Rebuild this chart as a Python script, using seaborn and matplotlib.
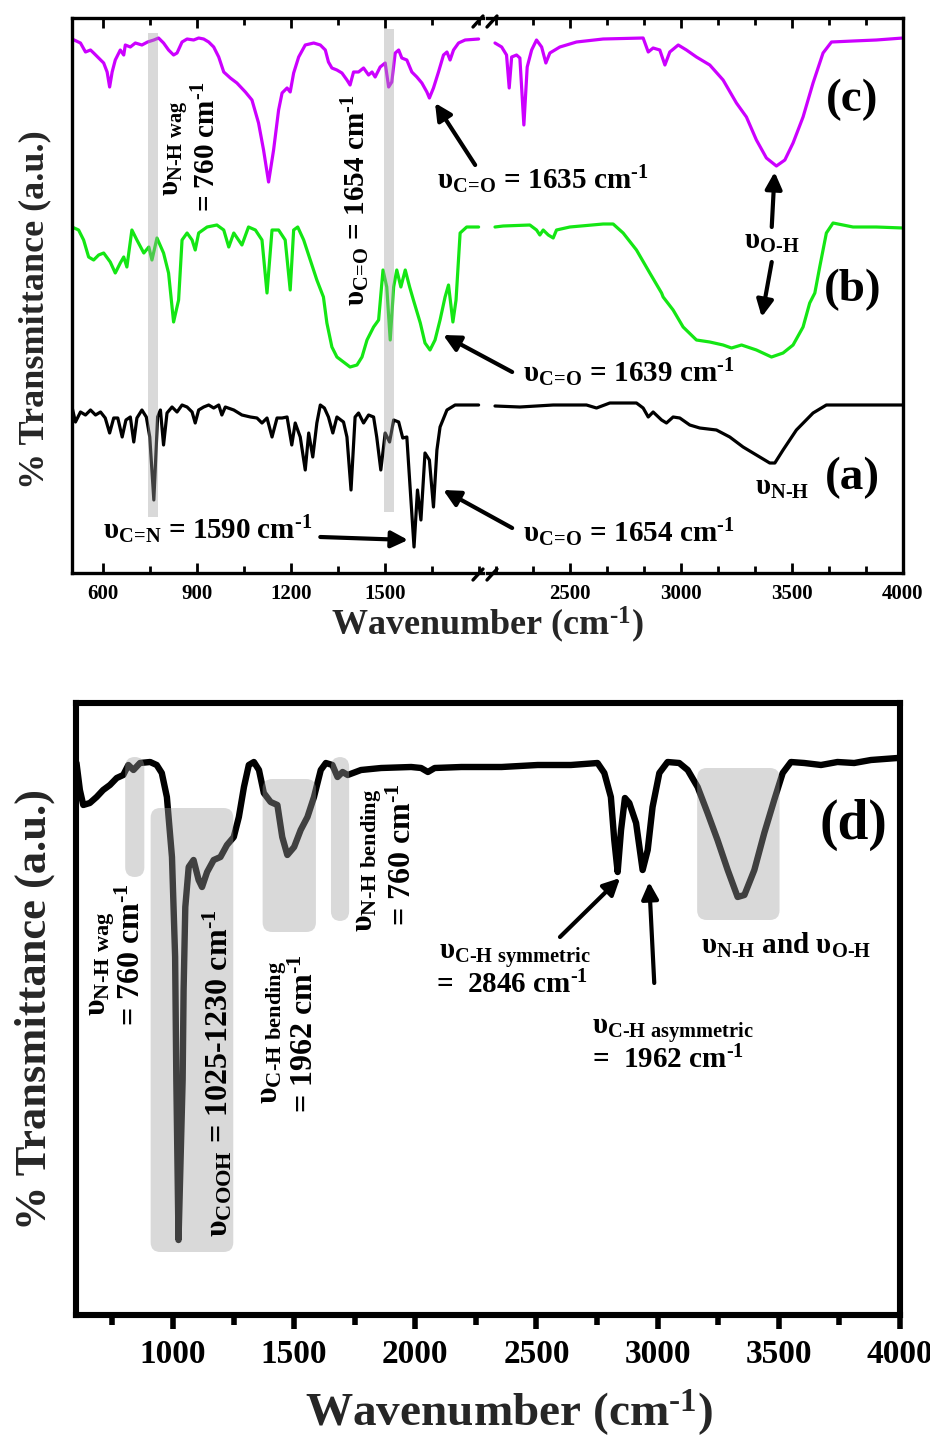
import numpy as np
import pandas as pd
import matplotlib
matplotlib.use('Agg')
import matplotlib.pyplot as plt
import seaborn as sns
from matplotlib.patches import Rectangle, FancyBboxPatch
from matplotlib.lines import Line2D
from matplotlib.ticker import MultipleLocator

# ---------------- data (a.u.) ----------------
# (c) magenta, left segment 500-1800 cm-1
c_left_wn = [501,528,544,560,570,586,602,613,621,629,639,655,666,671,687,703,724,742,762,777,793,809,825,836,852,868,889,905,921,937,953,969,985,1006,1027,1054,1075,1096,1112,1128,1144,1160,1171,1187,1197,1208,1224,1245,1272,1293,1309,1319,1330,1346,1362,1378,1388,1399,1415,1431,1447,1458,1468,1484,1500,1511,1521,1532,1543,1553,1569,1585,1601,1617,1633,1641,1654,1670,1686,1697,1707,1718,1734,1755,1798]
c_left_T = [534,530,521,523,520,515,510,501,486,501,513,523,518,528,526,530,528,531,533,535,530,523,518,520,531,534,533,535,534,531,526,516,501,495,490,481,473,450,423,391,423,463,480,485,481,500,516,528,530,528,523,511,505,503,500,493,488,501,501,505,498,501,496,506,510,486,491,520,523,515,513,501,496,490,481,475,485,501,518,521,513,523,530,533,534]
c_right_wn = [2163,2193,2215,2227,2238,2260,2275,2293,2308,2328,2350,2373,2392,2410,2455,2530,2650,2830,2853,2875,2905,2928,2950,2988,3025,3070,3130,3190,3250,3295,3340,3385,3430,3468,3505,3550,3595,3640,3678,3775,3880,4000]
c_right_T = [530,526,518,485,516,518,515,448,506,523,533,526,510,520,526,531,534,535,521,525,523,508,521,528,523,516,508,493,470,456,433,415,407,413,430,456,490,520,531,532,533,535]

# (b) green
b_left_wn = [501,522,538,554,570,586,602,623,639,655,666,676,692,708,730,746,756,772,793,809,825,841,852,868,884,894,905,932,963,985,1001,1017,1043,1064,1086,1107,1123,1139,1160,1181,1197,1208,1221,1240,1261,1282,1303,1314,1330,1346,1367,1388,1410,1426,1442,1463,1479,1493,1505,1516,1527,1537,1550,1564,1578,1590,1612,1627,1643,1659,1675,1691,1702,1716,1726,1739,1760,1798]
b_left_T = [346,343,333,316,313,318,320,311,300,310,316,306,343,333,320,326,313,335,320,300,251,273,333,340,333,323,340,346,348,343,326,340,328,346,343,333,280,343,343,333,283,343,346,333,313,293,276,250,226,216,211,206,208,216,233,246,253,303,286,233,286,303,286,303,286,273,250,230,223,233,253,276,288,251,273,340,346,346]
b_right_wn = [2163,2200,2320,2350,2365,2380,2403,2425,2440,2500,2650,2695,2740,2800,2860,2913,2920,2965,3010,3070,3130,3190,3228,3273,3340,3408,3460,3505,3550,3580,3603,3625,3655,3685,3775,3880,4000]
b_right_T = [346,347,348,343,338,343,338,335,343,346,349,349,340,323,300,280,276,263,246,233,231,228,225,228,223,216,220,228,246,270,280,306,340,350,346,346,345]

# (a) black
a_left_wn = [501,512,528,544,560,576,592,607,621,634,647,661,673,687,698,708,724,738,749,762,774,783,793,804,820,836,852,868,884,894,905,921,937,953,969,979,990,1017,1043,1070,1091,1107,1123,1139,1155,1171,1187,1202,1213,1229,1245,1256,1269,1282,1293,1306,1319,1333,1346,1367,1378,1391,1404,1415,1431,1447,1463,1473,1486,1500,1514,1527,1543,1556,1569,1580,1592,1603,1614,1627,1641,1654,1665,1675,1697,1723,1760,1798]
a_left_T = [166,151,161,158,163,158,161,155,140,155,155,136,153,156,131,155,163,156,136,73,156,163,128,160,166,161,168,166,161,150,163,166,168,165,168,158,166,163,158,156,155,150,155,136,155,155,156,128,150,136,103,140,116,150,168,165,156,140,156,151,136,83,156,160,150,158,156,136,103,140,131,153,151,135,136,83,26,83,53,120,113,66,123,146,163,168,168,168]
a_right_wn = [2163,2275,2425,2575,2620,2680,2800,2830,2853,2875,2913,2935,2965,2995,3040,3085,3160,3220,3280,3340,3400,3423,3460,3520,3595,3655,3775,4000]
a_right_T = [167,166,168,168,165,170,170,165,156,161,153,150,156,155,148,145,143,136,126,118,110,110,123,143,160,168,168,168]

# (d) black, full range
d_wn = [602,616,630,657,685,712,740,768,795,816,837,864,906,933,954,975,996,1009,1014,1023,1040,1044,1051,1065,1085,1106,1120,1141,1168,1196,1223,1251,1272,1293,1313,1334,1355,1375,1403,1431,1451,1472,1500,1527,1555,1582,1610,1631,1658,1679,1700,1721,1776,1859,1983,2024,2052,2080,2190,2356,2505,2642,2752,2780,2807,2821,2835,2849,2865,2883,2911,2938,2959,2979,3007,3041,3089,3124,3165,3206,3247,3289,3330,3358,3399,3440,3481,3516,3550,3605,3674,3742,3811,3880,3990]
d_T = [552,525,510,512,518,525,530,537,540,550,545,552,553,550,542,518,458,358,235,75,235,325,408,448,455,435,428,443,455,458,470,478,498,528,550,553,545,522,513,510,478,460,468,485,498,518,545,552,550,538,543,540,545,547,548,547,543,547,548,548,550,550,552,542,518,475,443,485,517,512,492,445,465,508,542,553,552,545,528,502,475,445,418,420,445,482,515,542,553,552,550,553,552,555,557]

# highlight bands (top panel) and boxes (bottom panel)
band_lo = [742, 1495]
band_hi = [774, 1529]
band_bot = [56, 61]
band_top = [540, 544]
box_x0 = [803, 908, 1370, 1652, 3163]
box_x1 = [882, 1249, 1590, 1727, 3503]
box_y0 = [438, 63, 383, 394, 395]
box_y1 = [558, 507, 536, 558, 547]

top_major_left = [600, 900, 1200, 1500]
top_major_right = [2500, 3000, 3500, 4000]
bot_major = [1000, 1500, 2000, 2500, 3000, 3500, 4000]

colors = {'a': 'black', 'b': '#14e614', 'c': '#cc00ff'}

# ---------------- style ----------------
sns.set_theme(style='white')
plt.rcParams['font.family'] = ['Liberation Serif', 'DejaVu Serif']
plt.rcParams['font.weight'] = 'bold'
plt.rcParams['mathtext.fontset'] = 'custom'
plt.rcParams['mathtext.rm'] = 'Liberation Serif:bold'
plt.rcParams['mathtext.it'] = 'Liberation Serif:bold'
plt.rcParams['mathtext.bf'] = 'Liberation Serif:bold'
plt.rcParams['mathtext.default'] = 'rm'

W, H = 930, 1442
fig = plt.figure(figsize=(W / 100, H / 100), dpi=100)
fig.patch.set_facecolor('white')

def frame(x0, y0, x1, y1):
    return [x0 / W, 1 - y1 / H, (x1 - x0) / W, (y1 - y0) / H]

ax1 = fig.add_axes(frame(71.7, 18, 483, 573))
ax2 = fig.add_axes(frame(487, 18, 903, 573))
ax3 = fig.add_axes(frame(76, 703, 900, 1315))
ax1.set_zorder(3)
ax2.set_zorder(2)
ax1.patch.set_visible(False)
ax2.patch.set_visible(False)

left_df = pd.concat([
    pd.DataFrame({'wn': c_left_wn, 'T': c_left_T, 's': 'c'}),
    pd.DataFrame({'wn': b_left_wn, 'T': b_left_T, 's': 'b'}),
    pd.DataFrame({'wn': a_left_wn, 'T': a_left_T, 's': 'a'}),
])
right_df = pd.concat([
    pd.DataFrame({'wn': c_right_wn, 'T': c_right_T, 's': 'c'}),
    pd.DataFrame({'wn': b_right_wn, 'T': b_right_T, 's': 'b'}),
    pd.DataFrame({'wn': a_right_wn, 'T': a_right_T, 's': 'a'}),
])
d_df = pd.DataFrame({'wn': d_wn, 'T': d_T})

for ax, df in ((ax1, left_df), (ax2, right_df)):
    sns.lineplot(data=df, x='wn', y='T', hue='s', palette=colors, ax=ax,
                 estimator=None, legend=False, linewidth=2.3,
                 solid_joinstyle='round')
sns.lineplot(data=d_df, x='wn', y='T', color='black', ax=ax3, estimator=None,
             linewidth=4.6, solid_joinstyle='round', solid_capstyle='round')

ax1.set_xlim(500, 1812)
ax2.set_xlim(2127, 4000)
ax3.set_xlim(600, 4000)
for ax in (ax1, ax2):
    ax.set_ylim(0, 555)
ax3.set_ylim(0, 612)

# bands
for lo, hi, b0, b1 in zip(band_lo, band_hi, band_bot, band_top):
    ax1.add_patch(Rectangle((lo, b0), hi - lo, b1 - b0, facecolor='#a1a1a1',
                            alpha=0.4, edgecolor='none', zorder=4))
aspect = 0.2414
for x0, x1, y0, y1 in zip(box_x0, box_x1, box_y0, box_y1):
    ax3.add_patch(FancyBboxPatch((x0, y0), x1 - x0, y1 - y0,
                                 boxstyle='round,pad=0,rounding_size=40',
                                 mutation_aspect=aspect,
                                 facecolor='#a1a1a1', alpha=0.4,
                                 edgecolor='none', zorder=4))

# axes styling
for ax in (ax1, ax2):
    ax.set_xlabel('')
    ax.set_ylabel('')
    ax.set_yticks([])
    for sp in ax.spines.values():
        sp.set_linewidth(2.4)
        sp.set_color('black')
    ax.tick_params(axis='x', which='both', direction='in', top=True,
                   bottom=True, width=2, labelsize=15, pad=8, colors='black')
    ax.tick_params(axis='x', which='major', length=7)
    ax.tick_params(axis='x', which='minor', length=5)
ax1.spines['right'].set_visible(False)
ax2.spines['left'].set_visible(False)
ax1.set_xticks(top_major_left)
ax1.xaxis.set_minor_locator(MultipleLocator(150))
ax2.set_xticks(top_major_right)
ax2.xaxis.set_minor_locator(MultipleLocator(500 / 3))

ax3.set_xlabel('')
ax3.set_ylabel('')
ax3.set_yticks([])
for sp in ax3.spines.values():
    sp.set_linewidth(4.4)
    sp.set_color('black')
ax3.set_xticks(bot_major)
ax3.xaxis.set_minor_locator(MultipleLocator(250))
ax3.tick_params(axis='x', which='both', direction='out', bottom=True,
                top=False, width=4, labelsize=24, pad=7, colors='black')
ax3.tick_params(axis='x', which='major', length=10)
ax3.tick_params(axis='x', which='minor', length=7)

# break marks
for x0, y0, x1, y1 in [(473, 27, 483, 16), (487, 27, 497, 16),
                       (473, 580, 483, 569), (487, 580, 497, 569)]:
    fig.add_artist(Line2D([x0 / W, x1 / W], [1 - y0 / H, 1 - y1 / H],
                          color='black', lw=2.4, transform=fig.transFigure))

HY = '\u2010'
SUP = '$^{' + HY + '1}$'

# labels
fig.text(487 / W, 1 - 625 / H, 'Wavenumber (cm' + SUP + ')', fontsize=26,
         ha='center', va='center', fontweight='bold')
fig.text(509 / W, 1 - 1413 / H, 'Wavenumber (cm' + SUP + ')', fontsize=34,
         ha='center', va='center', fontweight='bold')
fig.text(35 / W, 1 - 310 / H, '% Transmittance (a.u.)', fontsize=26,
         rotation=90, ha='center', va='center', fontweight='bold')
fig.text(35 / W, 1 - 1009 / H, '% Transmittance (a.u.)', fontsize=32,
         rotation=90, ha='center', va='center', fontweight='bold')

def put(ax, x, y, s, size, rot=0, ha='center', va='center'):
    ax.text(x, y, s, fontsize=size, rotation=rot, ha=ha, va=va,
            fontweight='bold', clip_on=False, zorder=6, color='black')

def arrow(ax, tail, head, lw=3.0):
    ax.annotate('', xy=head, xytext=tail,
                arrowprops=dict(arrowstyle='-|>,head_length=0.5,head_width=0.25',
                                lw=lw, color='black', mutation_scale=20,
                                shrinkA=0, shrinkB=0),
                annotation_clip=False, zorder=6)

def sub(s):
    s = s.replace('-', HY).replace(' ', r'\ ')
    return 'υ$_{\\mathrm{' + s + '}}$'

CO = r'υ$_{\mathrm{C\!=\!O}}$'
CM = ' cm' + SUP
# top panel annotations
put(ax1, 830, 425, sub('N-H wag'), 21, rot=90)
put(ax1, 933, 426, '= 760' + CM, 21, rot=90)
put(ax1, 1405, 373, CO + ' = 1654' + CM, 21, rot=90)
put(ax1, 1666, 393, CO + ' = 1635' + CM, 21, ha='left')
arrow(ax1, (1787, 408), (1659, 470))
put(ax2, 3409, 331, sub('O-H'), 21)
arrow(ax2, (3409, 346), (3422, 401))
arrow(ax2, (3409, 311), (3364, 256))
put(ax2, 3773, 473, '(c)', 34)
put(ax2, 3773, 283, '(b)', 34)
put(ax2, 3773, 95, '(a)', 34)
put(ax2, 2289, 200, CO + ' = 1639' + CM, 21, ha='left')
arrow(ax1, (1905, 201), (1685, 238))
put(ax2, 2289, 40, CO + ' = 1654' + CM, 21, ha='left')
arrow(ax1, (1905, 45), (1685, 83))
put(ax1, 601, 43, r'υ$_{\mathrm{C\!=\!N}}$ = 1590' + CM, 21, ha='left')
arrow(ax1, (1293, 36), (1573, 33))
put(ax2, 3332, 86, sub('N-H'), 21, ha='left')

# bottom panel annotations
put(ax3, 707, 351, sub('N-H wag'), 23, rot=90)
put(ax3, 831, 360, '= 760' + CM, 23, rot=90)
put(ax3, 1184, 242, sub('COOH') + ' = 1025-1230' + CM, 23, rot=90)
put(ax3, 1416, 283, sub('C-H bending'), 23, rot=90)
put(ax3, 1548, 281, '= 1962' + CM, 23, rot=90)
put(ax3, 1810, 455, sub('N-H bending'), 23, rot=90)
put(ax3, 1950, 460, '= 760' + CM, 23, rot=90)
put(ax3, 2096, 360, sub('C-H symmetric'), 21, ha='left')
put(ax3, 2087, 330, '=  2846' + CM, 21, ha='left')
arrow(ax3, (2597, 378), (2845, 437))
put(ax3, 2729, 285, sub('C-H asymmetric'), 21, ha='left')
put(ax3, 2729, 255, '=  1962' + CM, 21, ha='left')
arrow(ax3, (2986, 332), (2965, 433))
put(ax3, 3177, 370, sub('N-H') + ' and ' + sub('O-H'), 21, ha='left')
put(ax3, 3806, 490, '(d)', 40)

fig.savefig('out.png', dpi=100, facecolor='white')
